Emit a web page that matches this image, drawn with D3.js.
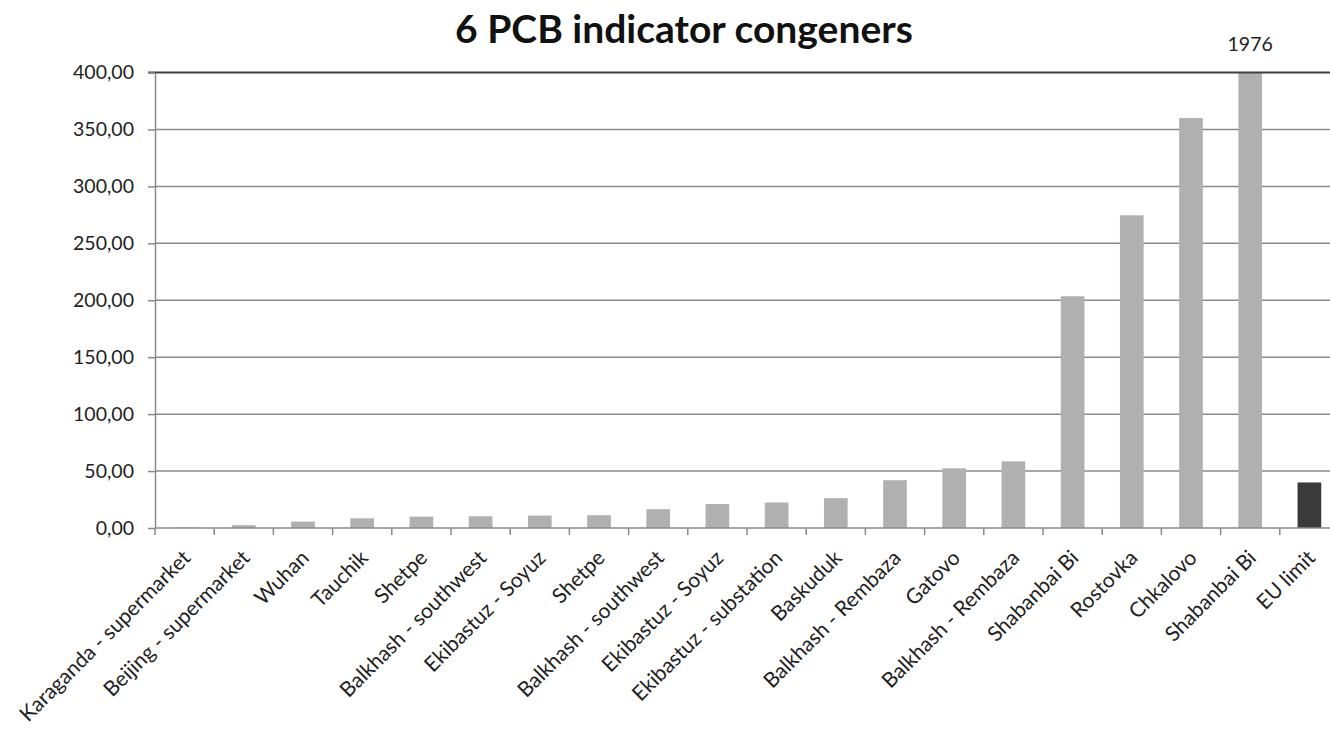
<!DOCTYPE html>
<html><head><meta charset="utf-8">
<script src="https://cdn.jsdelivr.net/npm/d3@7"></script>
<style>body{margin:0;background:#fff;} svg{display:block;font-family:Lato, "Open Sans", sans-serif;}</style>
</head><body>
<svg id="c" width="1330" height="729"></svg>
<script>
const categories = ["Karaganda - supermarket","Beijing - supermarket","Wuhan","Tauchik","Shetpe","Balkhash - southwest","Ekibastuz - Soyuz","Shetpe","Balkhash - southwest","Ekibastuz - Soyuz","Ekibastuz - substation","Baskuduk","Balkhash - Rembaza","Gatovo","Balkhash - Rembaza","Shabanbai Bi","Rostovka","Chkalovo","Shabanbai Bi","EU limit"];
const values = [0.5, 2.5, 5.6, 8.5, 10, 10.3, 10.9, 11.2, 16.5, 21, 22.4, 26.2, 42, 52.4, 58.5, 203.5, 274.6, 360, 1976, 40];
const yTicks = [0, 50, 100, 150, 200, 250, 300, 350, 400];
const title = "6 PCB indicator congeners";

const svg = d3.select("#c");
const m = {l:155, r:1339, t:72.5, b:528};
const ids = categories.map((d,i)=>i);
const x = d3.scaleBand().domain(ids).range([m.l, m.r]).paddingInner(0.6).paddingOuter(0.3);
const xb = d3.scaleBand().domain(ids).range([m.l, m.r]);
const y = d3.scaleLinear().domain([0,400]).range([m.b, m.t]);
const fmt = v => d3.format(".2f")(v).replace(".", ",");

// gridlines
svg.append("g").selectAll("line").data(yTicks.filter(t=>t>0 && t<400)).join("line")
  .attr("x1", m.l).attr("x2", m.r).attr("y1", d=>y(d)).attr("y2", d=>y(d))
  .attr("stroke", "#8a8a8a").attr("stroke-width", 1.5);

// bars
svg.append("g").selectAll("rect").data(values).join("rect")
  .attr("x", (d,i)=>x(i)).attr("width", x.bandwidth())
  .attr("y", d=>y(Math.min(d,400))).attr("height", d=>y(0)-y(Math.min(d,400)))
  .attr("fill", (d,i)=> i===values.length-1 ? "#3a3a3a" : "#b0b0b0");

// top line
svg.append("line").attr("x1", m.l-7).attr("x2", m.r).attr("y1", y(400)).attr("y2", y(400))
  .attr("stroke", "#404040").attr("stroke-width", 2);

// y axis
const ya = svg.append("g").attr("transform", `translate(${m.l},0)`)
  .call(d3.axisLeft(y).tickValues(yTicks).tickFormat(fmt).tickSize(7).tickSizeOuter(0).tickPadding(14));
ya.select(".domain").attr("stroke", "#8a8a8a").attr("stroke-width", 1.5);
ya.selectAll(".tick line").attr("stroke", "#8a8a8a").attr("stroke-width", 1.5);
ya.selectAll(".tick text").attr("font-size", 19.5).attr("fill", "#222").attr("font-family", "Lato, sans-serif");

// x axis baseline and ticks
const xg = svg.append("g");
xg.append("line").attr("x1", m.l).attr("x2", m.r).attr("y1", y(0)).attr("y2", y(0))
  .attr("stroke", "#8a8a8a").attr("stroke-width", 1.5);
xg.selectAll("line.t").data(d3.range(categories.length+1)).join("line").attr("class","t")
  .attr("x1", d=>m.l + d*xb.step()).attr("x2", d=>m.l + d*xb.step())
  .attr("y1", y(0)).attr("y2", y(0)+7).attr("stroke", "#8a8a8a").attr("stroke-width", 1.5);

// category labels
xg.selectAll("text").data(categories).join("text")
  .attr("transform", (d,i)=>`translate(${xb(i)+xb.bandwidth()/2+2},${y(0)+26}) rotate(-45)`)
  .attr("text-anchor", "end").attr("dy", "0.35em")
  .attr("font-size", 21).attr("fill", "#222").text(d=>d);

// over-range label
svg.append("text").attr("x", x(18)+x.bandwidth()/2).attr("y", 51).attr("text-anchor","middle")
  .attr("font-size", 19.5).attr("fill", "#222").text(values[18]);

// title
svg.append("text").attr("x", 684).attr("y", 43).attr("text-anchor","middle")
  .attr("font-size", 39).attr("font-weight", "bold").attr("fill", "#111").text(title);
</script>
</body></html>
